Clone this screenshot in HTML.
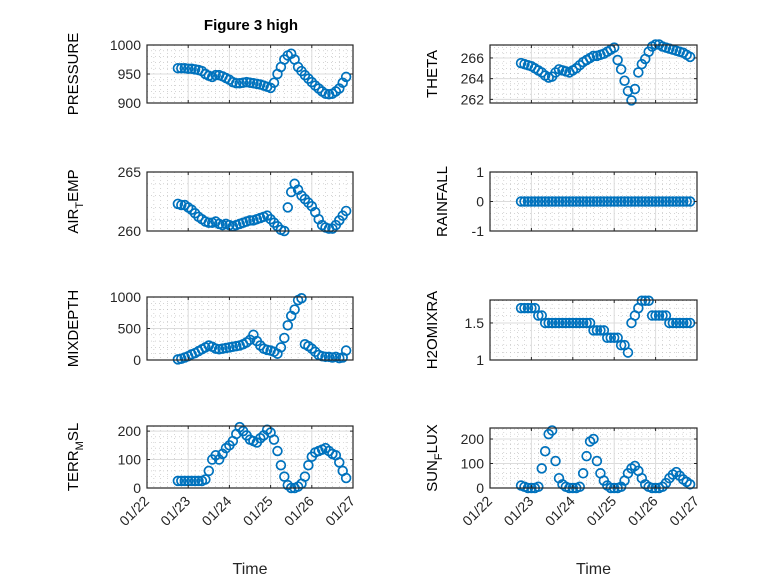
<!DOCTYPE html>
<html><head><meta charset="utf-8"><style>
body{margin:0;background:#fff;}
svg{display:block;font-family:"Liberation Sans",sans-serif;}
</style></head><body>
<svg id="fig" width="778" height="583" xmlns="http://www.w3.org/2000/svg">
<rect width="778" height="583" fill="#fff"/>
<text x="251" y="30" font-size="15" font-weight="bold" text-anchor="middle" fill="#000">Figure 3 high</text>
</svg>
<script>
// time in days since 01/22 (2-hourly)
const times = [0.75,0.833,0.917,1,1.083,1.167,1.25,1.333,1.417,1.5,1.583,1.667,1.75,1.833,1.917,2,2.083,2.167,2.25,2.333,2.417,2.5,2.583,2.667,2.75,2.833,2.917,3,3.083,3.167,3.25,3.333,3.417,3.5,3.583,3.667,3.75,3.833,3.917,4,4.083,4.167,4.25,4.333,4.417,4.5,4.583,4.667,4.75,4.833];
const dateTicks = ["01/22","01/23","01/24","01/25","01/26","01/27"];
const pressure = [960,960,960,959,959,958,957,955,950,947,945,948,948,946,943,940,936,934,934,935,936,935,934,933,932,930,928,926,935,950,962,975,982,985,975,962,955,948,942,936,930,925,920,916,915,916,920,925,935,945];
const theta = [265.5,265.4,265.3,265.2,265.0,264.8,264.6,264.3,264.1,264.2,264.6,264.9,264.8,264.7,264.6,264.8,265.0,265.3,265.6,265.8,266.0,266.2,266.2,266.3,266.4,266.6,266.8,267.0,265.8,264.9,263.8,262.8,261.9,263.0,264.6,265.4,265.9,266.6,267.1,267.3,267.3,267.1,267.0,266.9,266.8,266.7,266.6,266.5,266.3,266.1];
const airTemp = [262.3,262.2,262.2,262.0,261.8,261.5,261.2,261.0,260.8,260.7,260.7,260.8,260.6,260.5,260.6,260.5,260.4,260.5,260.6,260.7,260.8,260.9,260.9,261.0,261.1,261.2,261.3,261.0,260.7,260.4,260.1,260.0,262.0,263.3,264.0,263.5,263.0,262.7,262.4,262.1,261.6,261.0,260.5,260.3,260.2,260.2,260.5,260.9,261.3,261.7];
const rainfall = [0,0,0,0,0,0,0,0,0,0,0,0,0,0,0,0,0,0,0,0,0,0,0,0,0,0,0,0,0,0,0,0,0,0,0,0,0,0,0,0,0,0,0,0,0,0,0,0,0,0];
const mixDepth = [10,20,40,60,90,110,140,170,200,230,210,180,170,180,190,200,210,220,230,250,280,320,400,300,230,180,160,150,130,100,200,350,550,700,800,950,980,250,220,180,130,80,60,50,50,40,50,30,40,150];
const h2oMix = [1.7,1.7,1.7,1.7,1.7,1.6,1.6,1.5,1.5,1.5,1.5,1.5,1.5,1.5,1.5,1.5,1.5,1.5,1.5,1.5,1.5,1.4,1.4,1.4,1.4,1.3,1.3,1.3,1.3,1.2,1.2,1.1,1.5,1.6,1.7,1.8,1.8,1.8,1.6,1.6,1.6,1.6,1.6,1.5,1.5,1.5,1.5,1.5,1.5,1.5];
const terrMsl = [25,25,25,25,25,25,25,25,30,60,100,115,100,120,140,150,165,190,214,200,185,170,165,160,175,185,205,195,170,130,80,40,10,0,0,5,15,40,80,110,125,130,135,140,130,120,115,90,60,35];
const sunFlux = [10,5,0,0,0,5,80,150,220,235,110,40,15,5,0,0,0,5,60,130,190,200,110,60,30,10,0,0,0,5,30,60,80,90,70,40,15,5,0,0,0,5,20,40,55,65,50,35,25,15];

const NS="http://www.w3.org/2000/svg";
const svg=document.getElementById('fig');
function mk(tag,attrs,parent){const e=document.createElementNS(NS,tag);for(const k in attrs)e.setAttribute(k,attrs[k]);(parent||svg).appendChild(e);return e;}

const panels=[
 {name:'pressure',label:['PRESSURE'],vals:pressure,x0:147,x1:353,y0:45,y1:103,lo:900,hi:1000,ticks:[900,950,1000],minor:10,lx:78},
 {name:'theta',label:['THETA'],vals:theta,x0:490,x1:697,y0:45,y1:103,lo:261.65,hi:267.25,ticks:[262,264,266],minor:0.5,lx:437},
 {name:'air-temp',label:['AIR','T','EMP'],vals:airTemp,x0:147,x1:353,y0:172,y1:231,lo:260,hi:265,ticks:[260,265],minor:1,lx:78},
 {name:'rainfall',label:['RAINFALL'],vals:rainfall,x0:490,x1:697,y0:172,y1:231,lo:-1,hi:1,ticks:[-1,0,1],minor:0.2,lx:447},
 {name:'mixdepth',label:['MIXDEPTH'],vals:mixDepth,x0:147,x1:353,y0:297,y1:360,lo:0,hi:1000,ticks:[0,500,1000],minor:100,lx:78},
 {name:'h2omixra',label:['H2OMIXRA'],vals:h2oMix,x0:490,x1:697,y0:300,y1:360,lo:1,hi:1.81,ticks:[1,1.5],minor:0.1,lx:437},
 {name:'terr-msl',label:['TERR','M','SL'],vals:terrMsl,x0:147,x1:353,y0:426,y1:488,lo:0,hi:218,ticks:[0,100,200],minor:20,lx:78},
 {name:'sun-flux',label:['SUN','F','LUX'],vals:sunFlux,x0:490,x1:697,y0:428,y1:488,lo:0,hi:245,ticks:[0,100,200],minor:20,lx:437}
];

panels.forEach((p,pi)=>{
 const g=mk('g',{});
 
 
 const xs=t=>p.x0+(p.x1-p.x0)*t/5;
 const ys=v=>p.y1-(p.y1-p.y0)*(v-p.lo)/(p.hi-p.lo);
 for(let d=0;d<5;d++)for(let m=1;m<6;m++){const x=xs(d+m/6);mk('line',{x1:x,x2:x,y1:p.y0,y2:p.y1,stroke:'#bbb','stroke-width':0.6,'stroke-dasharray':'1 3'},g);}
 const mstart=Math.ceil(p.lo/p.minor-1e-9)*p.minor;
 for(let v=mstart;v<=p.hi+1e-9;v+=p.minor){const y=ys(v);mk('line',{x1:p.x0,x2:p.x1,y1:y,y2:y,stroke:'#bbb','stroke-width':0.6,'stroke-dasharray':'1 3'},g);}
 for(let d=1;d<5;d++){const x=xs(d);mk('line',{x1:x,x2:x,y1:p.y0,y2:p.y1,stroke:'#dcdcdc','stroke-width':1},g);}
 p.ticks.forEach(v=>{const y=ys(v);mk('line',{x1:p.x0,x2:p.x1,y1:y,y2:y,stroke:'#dcdcdc','stroke-width':1},g);});
 p.vals.forEach((v,i)=>{
  const c=mk('circle',{cx:xs(times[i]),cy:ys(v),r:4.4,fill:'none',stroke:'#0072bd','stroke-width':1.7},g);
  
  
 });
 const b=mk('rect',{x:p.x0,y:p.y0,width:p.x1-p.x0,height:p.y1-p.y0,fill:'none',stroke:'#262626','stroke-width':1.2},g);
 
 
 for(let d=0;d<=5;d++){const x=xs(d);mk('line',{x1:x,x2:x,y1:p.y1,y2:p.y1-3,stroke:'#262626'},g);mk('line',{x1:x,x2:x,y1:p.y0,y2:p.y0+3,stroke:'#262626'},g);}
 p.ticks.forEach(v=>{const y=ys(v);mk('line',{x1:p.x0,x2:p.x0+3,y1:y,y2:y,stroke:'#262626'},g);mk('line',{x1:p.x1,x2:p.x1-3,y1:y,y2:y,stroke:'#262626'},g);
  const t=mk('text',{x:p.x0-6,y:y+5,'font-size':14,'text-anchor':'end',fill:'#262626'},g);t.textContent=String(v);
  
  
 });
 const cy=(p.y0+p.y1)/2;
 const lt=mk('text',{x:p.lx,y:cy,'font-size':15,'text-anchor':'middle',fill:'#000',transform:'rotate(-90 '+p.lx+' '+cy+')'},g);
 
 
 if(p.label.length===1){lt.textContent=p.label[0];}
 else{
  const a=mk('tspan',{},lt);a.textContent=p.label[0];
  const s=mk('tspan',{dy:5,'font-size':11},lt);s.textContent=p.label[1];
  const c=mk('tspan',{dy:-5},lt);c.textContent=p.label[2];
 }
 if(pi>=6){
  dateTicks.forEach((lab,d)=>{const x=xs(d);
   const t=mk('text',{x:x+3,y:p.y1+14,'font-size':14,'text-anchor':'end',fill:'#262626',transform:'rotate(-45 '+(x+3)+' '+(p.y1+14)+')'},g);t.textContent=lab;
   
   
  });
  const xt=mk('text',{x:(p.x0+p.x1)/2,y:574,'font-size':16,'text-anchor':'middle',fill:'#262626'},g);xt.textContent='Time';
  
  
 }
});
</script>
</body></html>
